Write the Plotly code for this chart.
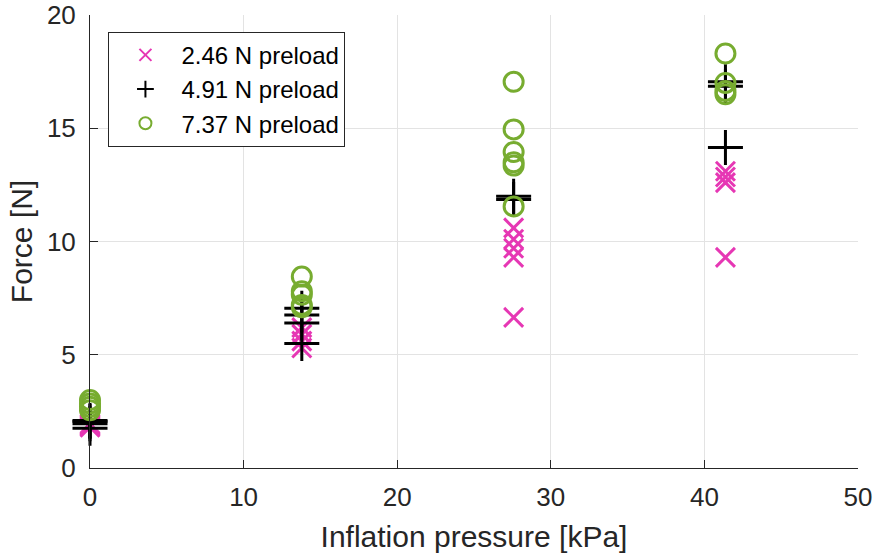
import plotly.graph_objects as go

# pressure levels [kPa]
p_a = [0, 0, 0, 0, 13.79, 13.79, 13.79, 13.79, 27.58, 27.58, 27.58, 27.58, 27.58, 41.37, 41.37, 41.37, 41.37]
f_a = [1.8, 1.85, 1.9, 1.95, 5.3, 5.6, 5.9, 6.2, 10.6, 10.1, 9.7, 9.3, 6.65, 13.1, 12.85, 12.6, 9.3]

p_b = [0, 0, 0, 0, 13.79, 13.79, 13.79, 13.79, 27.58, 27.58, 41.37, 41.37, 41.37]
f_b = [1.75, 1.95, 2.05, 2.1, 7.05, 6.75, 6.4, 5.5, 12.0, 11.85, 17.05, 16.85, 14.15]

p_c = [0, 0, 0, 0, 13.79, 13.79, 13.79, 13.79, 13.79, 27.58, 27.58, 27.58, 27.58, 27.58, 27.58, 41.37, 41.37, 41.37, 41.37]
f_c = [2.55, 2.7, 2.85, 3.0, 8.45, 7.8, 7.65, 7.2, 7.1, 17.05, 14.95, 13.95, 13.5, 13.35, 11.55, 18.3, 17.0, 16.65, 16.5]

names = ["2.46 N preload", "4.91 N preload", "7.37 N preload"]
x_ticks = [0, 10, 20, 30, 40, 50]
y_ticks = [0, 5, 10, 15, 20]

pink = "#E637B4"
black = "#000000"
green = "#77AC30"
FONT = "Liberation Sans, Arial, Helvetica"

fig = go.Figure()
fig.add_trace(go.Scatter(x=p_a, y=f_a, mode="markers", name=names[0], cliponaxis=False,
                         marker=dict(symbol="x-thin-open", size=19, color=pink,
                                     line=dict(color=pink, width=3))))
fig.add_trace(go.Scatter(x=p_b, y=f_b, mode="markers", name=names[1], cliponaxis=False,
                         marker=dict(symbol="cross-thin-open", size=25, color=black,
                                     line=dict(color=black, width=3))))
fig.add_trace(go.Scatter(x=p_c, y=f_c, mode="markers", name=names[2], cliponaxis=False,
                         marker=dict(symbol="circle-open", size=19, color=green,
                                     line=dict(color=green, width=3))))

axis_common = dict(
    showgrid=True, gridcolor="#e3e3e3", gridwidth=1,
    showline=True, linecolor="#262626", linewidth=1,
    ticks="inside", ticklen=8, tickcolor="#262626",
    tickfont=dict(family=FONT, size=26, color="#262626"),
    zeroline=False, mirror=False, automargin=False,
)

fig.update_layout(
    width=874, height=557,
    margin=dict(l=90, r=16, t=15, b=89),
    plot_bgcolor="white", paper_bgcolor="white",
    showlegend=True,
    legend=dict(x=0.024, y=0.963, xanchor="left", yanchor="top",
                bgcolor="white", bordercolor="#262626", borderwidth=1,
                font=dict(family=FONT, size=24, color="#000000"),
                itemsizing="constant", itemwidth=62, tracegroupgap=0),
    xaxis=dict(range=[0, 50], tickvals=x_ticks, ticklabelstandoff=6,
               title=dict(text="Inflation pressure [kPa]", standoff=14,
                          font=dict(family=FONT, size=30, color="#262626")),
               **axis_common),
    yaxis=dict(range=[0, 20], tickvals=y_ticks, ticklabelstandoff=8,
               title=dict(text="Force [N]", standoff=5,
                          font=dict(family=FONT, size=30, color="#262626")),
               **axis_common),
)

fig.write_html("out.html")
